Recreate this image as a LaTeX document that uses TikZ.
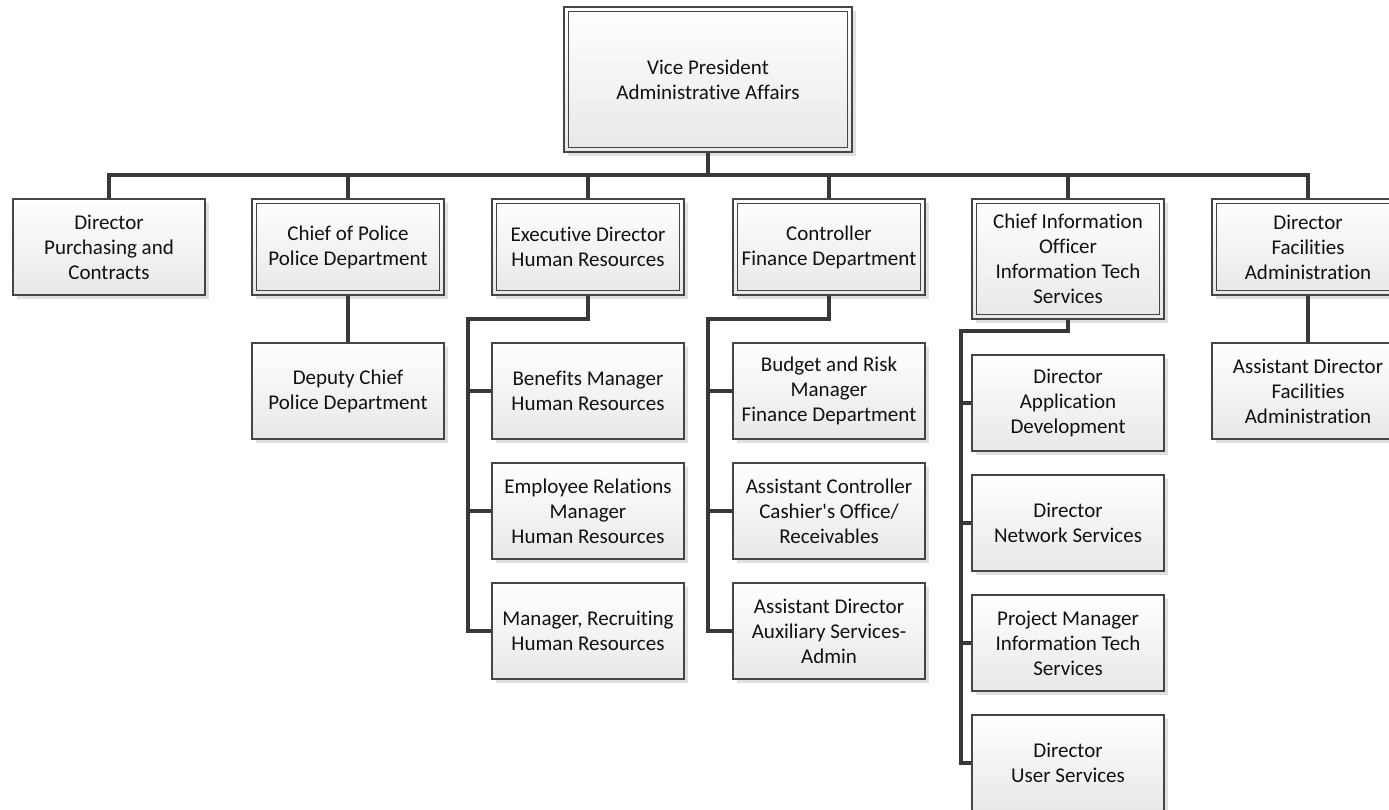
\documentclass[tikz,border=0pt]{standalone}
\usepackage{fontspec}
\setmainfont{Carlito}[Ligatures={TeXOff,NoCommon}]
\usetikzlibrary{shadows}
\definecolor{lnc}{HTML}{383838}
\definecolor{bdc}{HTML}{454545}
\definecolor{txc}{HTML}{111111}
\tikzset{
  box/.style={draw=bdc, line width=1.5pt, top color=white, bottom color=black!9,
    minimum width=192pt, minimum height=96pt, align=center, inner sep=2pt,
    font=\fontsize{21}{25}\selectfont, text=txc,
    drop shadow={shadow xshift=4pt, shadow yshift=-4pt, fill=black!12, opacity=1}},
  conn/.style={draw=lnc, line width=3.2pt, line join=miter},
  inner/.style={draw=bdc, line width=1.2pt},
}
\newcommand{\dblbox}[1]{\draw[inner] ([shift={(5pt,-5pt)}]#1.north west) rectangle ([shift={(-5pt,5pt)}]#1.south east);}
\begin{document}
\begin{tikzpicture}[x=1pt,y=-1pt]
\useasboundingbox (0,0) rectangle (1389,809);
\clip (0,0) rectangle (1389,809);
% coordinates for buses
\coordinate (bus) at (708,175);
\coordinate (hrb) at (468,319);
\coordinate (fb) at (708,319);
\coordinate (cb) at (961,331);
% top
\node[box, minimum width=288pt, minimum height=145pt] (vp) at (708,79.5) {Vice President\\Administrative Affairs};
% row 1
\node[box] (pur) at (109,247) {Director\\Purchasing and\\Contracts};
\node[box] (pol) at (348,247) {Chief of Police\\Police Department};
\node[box] (hr) at (588,247) {Executive Director\\Human Resources};
\node[box] (fin) at (829,247) {Controller\\Finance Department};
\node[box, minimum height=120pt] (cio) at (1068,259) {Chief Information\\Officer\\Information Tech\\Services};
\node[box] (fac) at (1308,247) {Director\\Facilities\\Administration};
% row 2+
\node[box] (dep) at (348,391) {Deputy Chief\\Police Department};
\node[box] (hr1) at (588,391) {Benefits Manager\\Human Resources};
\node[box] (hr2) at (588,511) {Employee Relations\\Manager\\Human Resources};
\node[box] (hr3) at (588,631) {Manager, Recruiting\\Human Resources};
\node[box] (fi1) at (829,391) {Budget and Risk\\Manager\\Finance Department};
\node[box] (fi2) at (829,511) {Assistant Controller\\Cashier's Office/\\Receivables};
\node[box] (fi3) at (829,631) {Assistant Director\\Auxiliary Services-\\Admin};
\node[box] (ci1) at (1068,403) {Director\\Application\\Development};
\node[box] (ci2) at (1068,523) {Director\\Network Services};
\node[box] (ci3) at (1068,643) {Project Manager\\Information Tech\\Services};
\node[box] (ci4) at (1068,763) {Director\\User Services};
\node[box] (fa1) at (1308,391) {Assistant Director\\Facilities\\Administration};
% double borders
\dblbox{vp}\dblbox{pol}\dblbox{hr}\dblbox{fin}\dblbox{cio}\dblbox{fac}
% connectors
\draw[conn] (vp.south) -- (bus);
\foreach \n in {pur,pol,hr,fin,cio,fac} { \draw[conn] (\n.north) |- (bus); }
\draw[conn] (pol.south) -- (dep.north);
\draw[conn] (fac.south) -- (fa1.north);
\draw[conn] (hr.south) |- (hrb) |- (hr3.west);
\draw[conn] (hr1.west) -- (hrb |- hr1.west);
\draw[conn] (hr2.west) -- (hrb |- hr2.west);
\draw[conn] (fin.south) |- (fb) |- (fi3.west);
\draw[conn] (fi1.west) -- (fb |- fi1.west);
\draw[conn] (fi2.west) -- (fb |- fi2.west);
\draw[conn] (cio.south) |- (cb) |- (ci4.west);
\draw[conn] (ci1.west) -- (cb |- ci1.west);
\draw[conn] (ci2.west) -- (cb |- ci2.west);
\draw[conn] (ci3.west) -- (cb |- ci3.west);
\end{tikzpicture}
\end{document}
